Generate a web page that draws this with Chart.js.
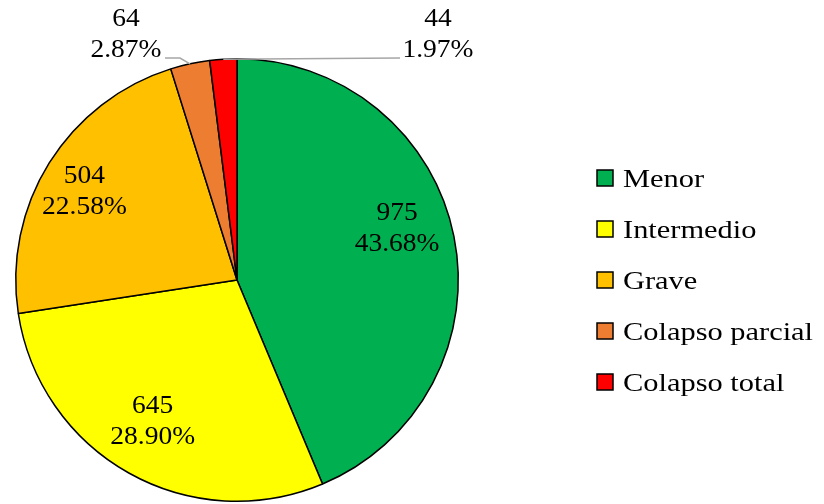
<!DOCTYPE html>
<html>
<head>
<meta charset="utf-8">
<script src="https://cdn.jsdelivr.net/npm/chart.js@4/dist/chart.umd.min.js"></script>
<style>
  html, body { margin: 0; padding: 0; background: #fff; }
  #wrap { width: 824px; height: 504px; }
</style>
</head>
<body>
<div id="wrap"><canvas id="pieChart" width="824" height="504"></canvas></div>
<script>
const categories = ["Menor", "Intermedio", "Grave", "Colapso parcial", "Colapso total"];
const counts = [975, 645, 504, 64, 44];
const colors = ["#00B050", "#FFFF00", "#FFC000", "#ED7D31", "#FF0000"];

const FONT = "'Liberation Serif', 'Times New Roman', serif";

// where each label sits: "in" = inside slice, "out" = above with a leader line
const labelLayout = [
  { mode: "in", r: 0.77, dx: -7, dy: -18 },
  { mode: "in", r: 0.77, dx: -1, dy: -7 },
  { mode: "in", r: 0.77, dx: -8, dy: 2 },
  { mode: "out", elbow: [180, 58], end: [165, 58], tx: 126, align: "center" },
  { mode: "out", elbow: [300, 58], end: [400, 58], tx: 438, align: "center" }
];

const stretchText = (ctx, text, x, y, sx) => {
  ctx.save();
  ctx.translate(x, y);
  ctx.scale(sx, 1);
  ctx.fillText(text, 0, 0);
  ctx.restore();
};

const sliceLabels = {
  id: "sliceLabels",
  afterDatasetsDraw(chart) {
    const ctx = chart.ctx;
    const meta = chart.getDatasetMeta(0);
    const data = chart.data.datasets[0].data;
    const total = data.reduce((a, b) => a + b, 0);

    ctx.save();
    ctx.font = "25px " + FONT;
    ctx.fillStyle = "#000";
    ctx.textAlign = "left";
    ctx.textBaseline = "middle";

    meta.data.forEach((arc, i) => {
      const p = arc.getProps(["x", "y", "startAngle", "endAngle", "outerRadius"], true);
      const mid = (p.startAngle + p.endAngle) / 2;
      const lay = labelLayout[i];
      const lines = [String(data[i]), (data[i] / total * 100).toFixed(2) + "%"];
      let cx, cy;

      if (lay.mode === "in") {
        cx = p.x + Math.cos(mid) * p.outerRadius * lay.r + lay.dx;
        cy = p.y + Math.sin(mid) * p.outerRadius * lay.r + lay.dy;
      } else {
        const ax = p.x + Math.cos(mid) * p.outerRadius;
        const ay = p.y + Math.sin(mid) * p.outerRadius;
        ctx.save();
        ctx.strokeStyle = "#A6A6A6";
        ctx.lineWidth = 1.5;
        ctx.beginPath();
        ctx.moveTo(ax, ay);
        if (i === 3) ctx.lineTo(lay.elbow[0], lay.elbow[1]);
        ctx.lineTo(lay.end[0], lay.end[1]);
        ctx.stroke();
        ctx.restore();
        cx = lay.tx;
        cy = 34;
      }

      lines.forEach((t, k) => {
        const sx = 1.1;
        const w = ctx.measureText(t).width * sx;
        stretchText(ctx, t, cx - w / 2, cy - 15 + k * 31, sx);
      });
    });
    ctx.restore();
  }
};

const sideLegend = {
  id: "sideLegend",
  afterDraw(chart) {
    const ctx = chart.ctx;
    const ds = chart.data.datasets[0];
    ctx.save();
    ctx.font = "26px " + FONT;
    ctx.textBaseline = "alphabetic";
    chart.data.labels.forEach((label, i) => {
      const y = 170 + i * 51;
      ctx.fillStyle = ds.backgroundColor[i];
      ctx.fillRect(597, y, 16, 16);
      ctx.strokeStyle = "#000";
      ctx.lineWidth = 1.5;
      ctx.strokeRect(597, y, 16, 16);
      ctx.fillStyle = "#000";
      stretchText(ctx, label, 623, y + 17, 1.17);
    });
    ctx.restore();
  }
};

const ctx = document.getElementById("pieChart").getContext("2d");
new Chart(ctx, {
  type: "pie",
  data: {
    labels: categories,
    datasets: [{
      data: counts,
      backgroundColor: colors,
      borderColor: "#000",
      borderWidth: 1.5
    }]
  },
  options: {
    responsive: false,
    animation: false,
    layout: { padding: { left: 15, top: 58, right: 365, bottom: 2 } },
    plugins: {
      legend: { display: false },
      tooltip: { enabled: false }
    }
  },
  plugins: [sliceLabels, sideLegend]
});
</script>
</body>
</html>
